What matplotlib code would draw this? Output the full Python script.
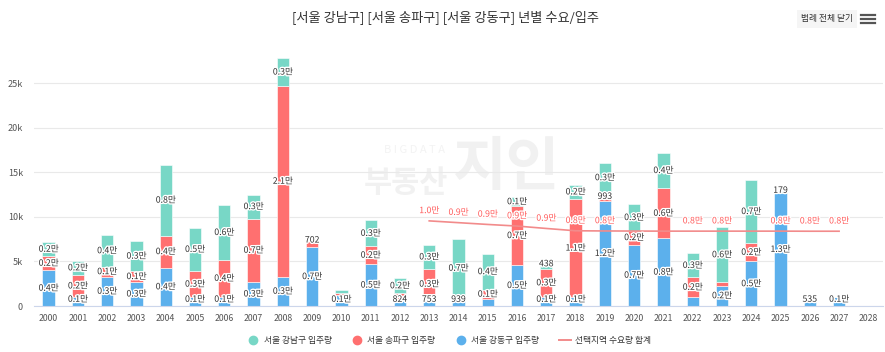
import matplotlib.pyplot as plt
import matplotlib.patheffects as pe
from matplotlib.lines import Line2D
import numpy as np

plt.rcParams['font.family'] = ['Noto Sans CJK KR', 'DejaVu Sans']

# 연도별 입주량 (세대)
years = list(range(2000, 2029))
gangnam = [1550, 1560, 3600, 3400, 7950, 4900, 6100, 2700, 3100, 0,
           400, 2900, 1680, 2700, 6600, 4000, 1000, 438, 1600, 3200,
           2950, 4000, 2700, 6200, 7100, 179, 0, 0, 0]
songpa = [1600, 2500, 1100, 1200, 3600, 2900, 4200, 7100, 21400, 702,
          250, 2000, 600, 3400, 0, 1050, 6600, 3200, 11000, 993,
          1550, 5600, 2200, 350, 2050, 0, 0, 0, 0]
gangdong = [4000, 1000, 3300, 2700, 4300, 1000, 1000, 2700, 3300, 6600,
            1200, 4700, 824, 753, 939, 800, 4600, 1000, 1000, 11800,
            6900, 7600, 1000, 2300, 5000, 12700, 535, 1000, 0]

# 선택지역 수요량 합계
demand_years = list(range(2013, 2028))
demand = [9550, 9350, 9150, 8970, 8700, 8440, 8420, 8410, 8400, 8400,
          8400, 8400, 8400, 8390, 8390]

C_GANGNAM = '#78d7c6'
C_SONGPA = '#ff7070'
C_GANGDONG = '#5cb0ec'
C_LINE = '#f28b8b'


def fmt(v):
    if v >= 1000:
        return f'{v / 10000:.1f}만'
    return str(v)


fig = plt.figure(figsize=(8.85, 3.52), dpi=100)
ax = fig.add_axes([34 / 885, 1 - 306 / 352, (883 - 34) / 885, (306 - 52) / 352])

x = np.arange(len(years))
w = 0.42
series = [(gangdong, C_GANGDONG), (songpa, C_SONGPA), (gangnam, C_GANGNAM)]
bottom = np.zeros(len(years))
for vals, col in series:
    vals = np.array(vals, dtype=float)
    ax.bar(x, vals, w, bottom=bottom, color=col, edgecolor='white',
           linewidth=0.4, zorder=2)
    bottom += vals

# 막대 값 라벨 (겹치면 작은 값 숨김)
stroke = [pe.withStroke(linewidth=2, foreground='white')]
placed = {}
for i in range(len(years)):
    segs = [gangdong[i], songpa[i], gangnam[i]]
    top_idx = max([k for k in range(3) if segs[k] > 0], default=-1)
    cands = []
    b = 0
    for k, v in enumerate(segs):
        if v <= 0:
            continue
        if v < 800 and k == top_idx:
            y = b + v + 100
        else:
            y = b + v / 2
        y = max(y, 750)
        cands.append((v, y))
        b += v
    kept = []
    for v, y in sorted(cands, key=lambda c: -c[0]):
        if all(abs(y - yy) >= 1450 for _, yy in kept):
            kept.append((v, y))
    placed[i] = [yy for _, yy in kept]
    for v, y in kept:
        ax.text(x[i], y, fmt(v), ha='center', va='center', fontsize=6.3,
                color='#333333', path_effects=stroke, zorder=5)

# 수요량 라인 (막대 라벨과 겹치는 라벨은 숨김)
dx = [years.index(yr) for yr in demand_years]
ax.plot(dx, demand, color=C_LINE, lw=1.2, zorder=4)
for xi, v in zip(dx, demand):
    ly = v + 1150
    if any(abs(ly - yy) < 1450 for yy in placed[xi]):
        continue
    ax.text(xi, ly, fmt(v), ha='center', va='center', fontsize=6.3,
            color='#ff5c5c', path_effects=stroke, zorder=6)

ax.set_xlim(-0.5, len(years) - 0.5)
ax.set_ylim(0, 28500)
ax.set_xticks(x)
ax.set_xticklabels([str(y) for y in years], fontsize=6.3, color='#555555')
ax.set_yticks([0, 5000, 10000, 15000, 20000, 25000])
ax.set_yticklabels(['0', '5k', '10k', '15k', '20k', '25k'], fontsize=6.5,
                   color='#555555')
ax.tick_params(axis='both', length=0)
ax.tick_params(axis='x', pad=6)
ax.tick_params(axis='y', pad=8)
ax.grid(axis='y', color='#e9e9e9', lw=0.8)
ax.set_axisbelow(True)
for s in ['top', 'right', 'left']:
    ax.spines[s].set_visible(False)
ax.spines['bottom'].set_color('#ccd6eb')

# 워터마크
ax.text(415 / 885, 1 - 150 / 352, 'B I G D A T A', transform=fig.transFigure,
        fontsize=8, color='#f3f3f3', ha='center', va='center', zorder=0.5)
ax.text(406 / 885, 1 - 183 / 352, '부동산', transform=fig.transFigure,
        fontsize=22, color='#f1f1f1', ha='center', va='center',
        fontweight='bold', zorder=0.5)
ax.text(506 / 885, 1 - 168 / 352, '지인', transform=fig.transFigure,
        fontsize=42, color='#f1f1f1', ha='center', va='center',
        fontweight='bold', zorder=0.5)

fig.text(445 / 885, 1 - 17 / 352,
         '[서울 강남구] [서울 송파구] [서울 강동구] 년별 수요/입주',
         ha='center', va='center', fontsize=9.5, color='#333333')

fig.text(827 / 885, 1 - 19 / 352, '범례 전체 닫기', ha='center', va='center',
         fontsize=6.3, color='#333333',
         bbox=dict(boxstyle='square,pad=0.5', fc='#f5f5f5', ec='none'))
for yy in (15, 19, 23):
    fig.add_artist(Line2D([861 / 885, 875 / 885], [1 - yy / 352] * 2,
                          color='#555555', lw=1.6))

handles = [
    Line2D([], [], marker='o', ls='none', color=C_GANGNAM, markersize=6),
    Line2D([], [], marker='o', ls='none', color=C_SONGPA, markersize=6),
    Line2D([], [], marker='o', ls='none', color=C_GANGDONG, markersize=6),
    Line2D([], [], color=C_LINE, lw=1.4),
]
labels = ['서울 강남구 입주량', '서울 송파구 입주량', '서울 강동구 입주량',
          '선택지역 수요량 합계']
fig.legend(handles, labels, loc='center', bbox_to_anchor=(449 / 885, 1 - 341 / 352),
           ncol=4, frameon=False, fontsize=6.3, handlelength=1.4,
           columnspacing=2.2, handletextpad=0.5, labelcolor='#333333')

fig.savefig('out.png', dpi=100, facecolor='white')
